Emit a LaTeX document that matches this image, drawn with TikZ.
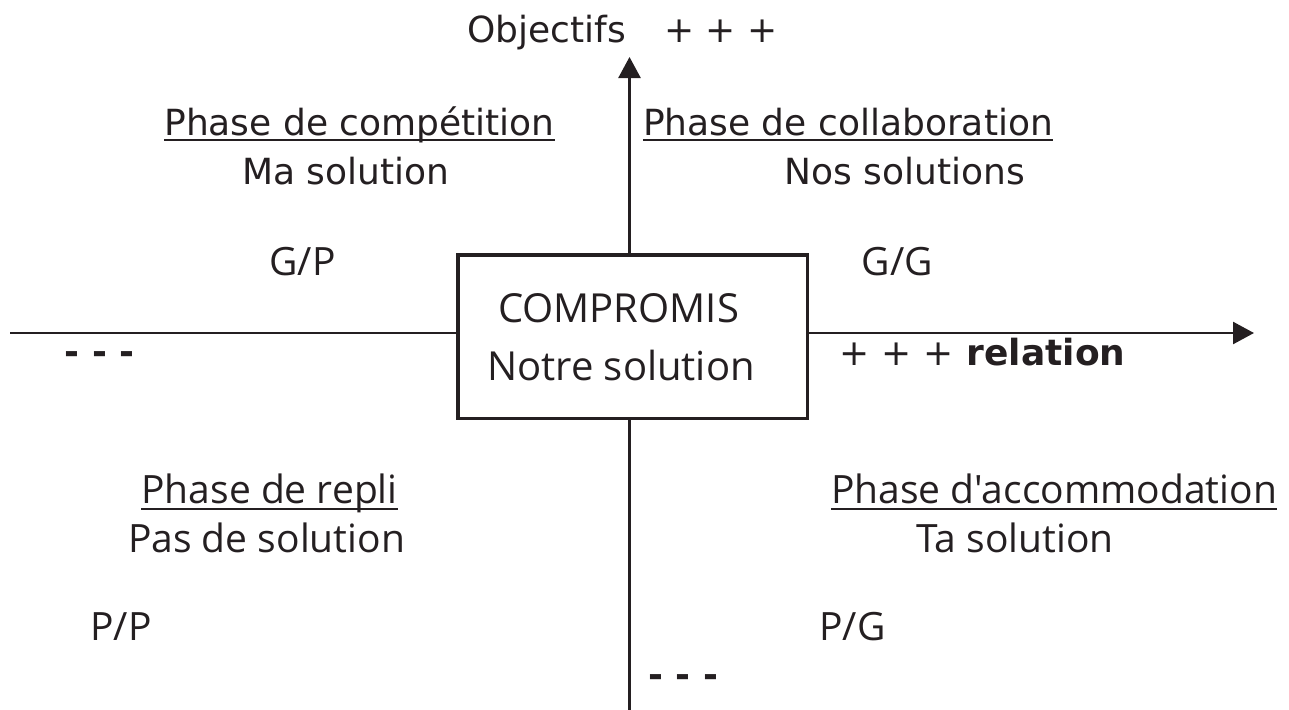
\documentclass[tikz,border=0pt]{standalone}
\usepackage{fontspec}
\setmainfont{DejaVu Sans}
\newfontfamily\vf{DejaVu Sans}
\newfontfamily\mf{Open Sans}
\usetikzlibrary{arrows.meta}
\definecolor{ink}{rgb}{0.14,0.12,0.13}
\begin{document}
\begin{tikzpicture}[x=1pt,y=-1pt,
  vt/.style={inner sep=0pt, anchor=base, text=ink, font=\vf\fontsize{36}{42}\selectfont},
  mt/.style={inner sep=0pt, anchor=base, text=ink, font=\mf\fontsize{39}{46}\selectfont},
  bt/.style={inner sep=0pt, anchor=base, text=ink, font=\mf\fontsize{40}{48}\selectfont},
  axis/.style={line width=2.5pt, draw=ink, -{Triangle[length=21pt,width=22pt]}},
  ul/.style={line width=2.5pt, draw=ink},
  boxst/.style={draw=ink, line width=3.5pt, fill=white, minimum width=349.5pt, minimum height=163.5pt, inner sep=0pt}]
\useasboundingbox (0,0) rectangle (1289,709);
% axes
\coordinate (xl) at (10,333);
\coordinate (xr) at (1254,333);
\coordinate (yb) at (629.5,712);
\coordinate (yt) at (629.5,57);
\draw[axis] (xl) -- (xr);
\draw[axis] (yb) -- (yt);
% central box
\node[boxst] (box) at (632.5,336.5) {};
\node[bt] (comp) at (618.5,322) {COMPROMIS};
\node[bt] (notre) at (621,380) {Notre solution};
% top
\node[vt] (obj) at (546.5,43) {Objectifs};
\node[vt] (objp) at (721,43) {+ + +};
\node[vt] (pc) at (359.5,135) {Phase de compétition};
\node[vt] (ma) at (346,184) {Ma solution};
\node[vt] (pcol) at (848,135) {Phase de collaboration};
\node[vt] (nos) at (904.5,184) {Nos solutions};
\draw[ul] ([yshift=-5pt]pc.base west) -- ([yshift=-5pt]pc.base east);
\draw[ul] ([yshift=-5pt]pcol.base west) -- ([yshift=-5pt]pcol.base east);
% ratios
\node[mt] (gp) at (302.5,275) {G/P};
\node[mt] (gg) at (897.5,275) {G/G};
\node[mt] (pp) at (121,640) {P/P};
\node[mt] (pg) at (852.5,640) {P/G};
% axis labels
\node[vt] (mx) at (99.5,364) {\bfseries - - -};
\node[vt] (px) at (896.5,365) {+ + +};
\node[vt] (rel) at (1046,365) {\bfseries relation};
\node[vt] (my) at (683,687) {\bfseries - - -};
% bottom
\node[mt] (pr) at (269.5,503) {Phase de repli};
\node[mt] (pas) at (266.5,552) {Pas de solution};
\node[mt] (pa) at (1054,503) {Phase d'accommodation};
\node[mt] (ta) at (1015,552) {Ta solution};
\draw[ul] ([yshift=-6pt]pr.base west) -- ([yshift=-6pt]pr.base east);
\draw[ul] ([yshift=-6pt]pa.base west) -- ([yshift=-6pt]pa.base east);
\end{tikzpicture}
\end{document}
